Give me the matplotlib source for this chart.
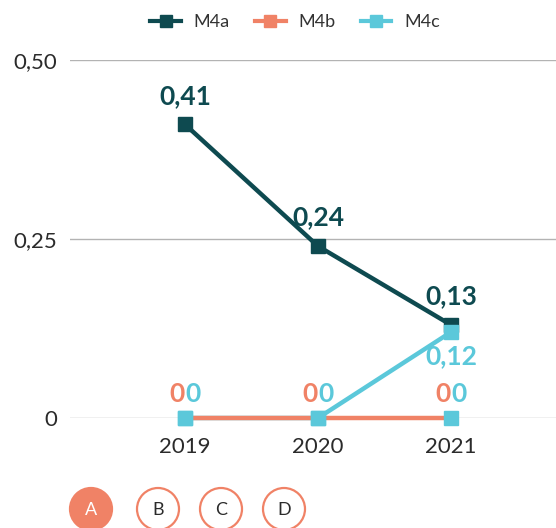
import matplotlib.pyplot as plt
from matplotlib.patches import Circle
from matplotlib.lines import Line2D

plt.rcParams['font.family'] = ['Lato', 'DejaVu Sans']

years = ["2019", "2020", "2021"]
m4a = [0.41, 0.24, 0.13]
m4b = [0, 0, 0]
m4c = [0, 0, 0.12]
series_names = ["M4a", "M4b", "M4c"]
y_ticks = [0, 0.25, 0.50]
y_tick_labels = ["0", "0,25", "0,50"]
buttons = ["A", "B", "C", "D"]

DARK = "#0e4a50"
ORANGE = "#f08266"
CYAN = "#5bc8da"
TEXT = "#2b2b2b"


def fmt(v):
    # decimal comma, plain "0" for zero
    if v == 0:
        return "0"
    return f"{v:.2f}".replace(".", ",")


def label(ax, txt, xy, dx, dy, color, va="bottom"):
    ax.annotate(txt, xy, xytext=(dx, dy), textcoords="offset points",
                ha="center", va=va, fontsize=19, fontweight="bold",
                color=color, zorder=5)


fig = plt.figure(figsize=(5.56, 5.28), dpi=100)
ax = fig.add_axes([70 / 556, 110 / 528, 486 / 556, 358 / 528])

x = list(range(len(years)))
ax.plot(x, m4a, color=DARK, lw=3.2, marker="s", ms=10, zorder=3)
ax.plot(x, m4c, color=CYAN, lw=3.2, zorder=2)
# zero series sits on the baseline, its squares painted in the light tone
ax.plot(x, m4b, color=ORANGE, lw=3.2, marker="s", ms=10,
        mfc=CYAN, mec=CYAN, zorder=3)
ax.plot(x, m4c, color=CYAN, lw=0, marker="s", ms=10, zorder=4)

for xi, v in zip(x, m4a):
    label(ax, fmt(v), (xi, v), 0, 12, DARK)
for xi, v in zip(x, m4b):
    label(ax, fmt(v), (xi, v), -5.5, 9, ORANGE)
    label(ax, fmt(v), (xi, v), 5.5, 9, CYAN)
for xi, v in zip(x, m4c):
    if v != 0:
        label(ax, fmt(v), (xi, v), 0, -9, CYAN, va="top")

ax.set_xlim(-115 / 133, 2 + 105 / 133)
ax.set_ylim(0, 0.5)
ax.set_yticks(y_ticks)
ax.set_yticklabels(y_tick_labels)
ax.set_xticks(x)
ax.set_xticklabels(years)
ax.tick_params(axis="both", length=0, labelsize=16, colors=TEXT)
ax.tick_params(axis="y", pad=9)
ax.tick_params(axis="x", pad=14)
ax.grid(axis="y", color="#b3b3b3", lw=1)
ax.set_axisbelow(True)
for s in ax.spines.values():
    s.set_visible(False)
for child in ax.get_children():
    if isinstance(child, Line2D):
        child.set_clip_on(False)

handles = [Line2D([], [], color=c, lw=3, marker="s", ms=9)
           for c in (DARK, ORANGE, CYAN)]
fig.legend(handles, series_names, loc="center", bbox_to_anchor=(295 / 556, 1 - 22 / 528),
           ncol=3, frameon=False, fontsize=13, handlelength=1.7, columnspacing=1.4,
           handletextpad=0.7, labelcolor="#333333")

# A/B/C/D selector buttons along the bottom
ov = fig.add_axes([0, 0, 1, 1], zorder=-1)
ov.set_xlim(0, 556)
ov.set_ylim(528, 0)
ov.axis("off")
for i, (bx, lab) in enumerate(zip([91, 158, 221, 284], buttons)):
    active = i == 0
    ov.add_patch(Circle((bx, 509), 21, facecolor=ORANGE if active else "white",
                        edgecolor=ORANGE, lw=1.6))
    ov.text(bx, 510, lab, ha="center", va="center", fontsize=13,
            color="white" if active else TEXT)

fig.savefig("out.png", dpi=100)
